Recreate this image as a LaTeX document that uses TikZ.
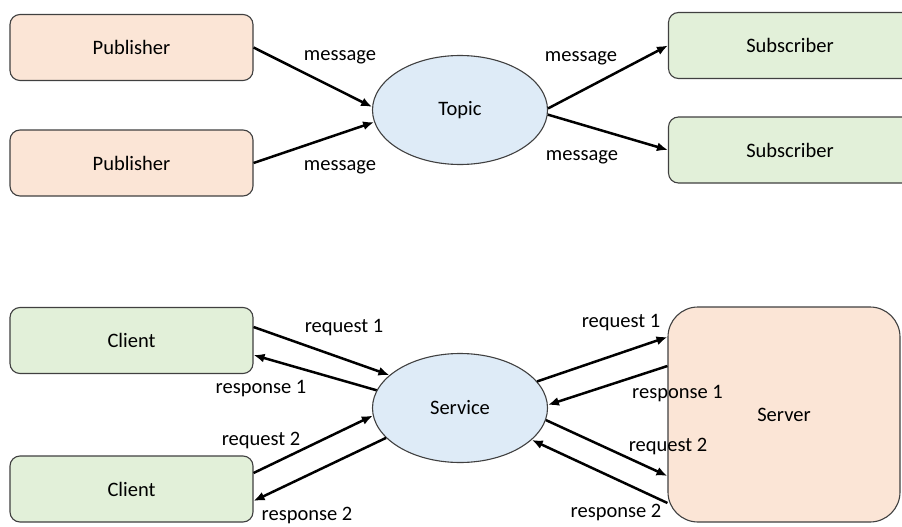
\documentclass[tikz,border=0pt]{standalone}
\usepackage{fontspec}
\setmainfont{Carlito}
\usetikzlibrary{arrows,arrows.meta,shapes}
\definecolor{pubfill}{RGB}{251,229,214}
\definecolor{subfill}{RGB}{226,240,217}
\definecolor{topicfill}{RGB}{222,235,247}
\definecolor{edgegray}{RGB}{64,64,64}
\newcommand{\txt}{\fontsize{20.5}{24}\selectfont}

\begin{document}
\begin{tikzpicture}[x=1pt,y=-1pt,
    box/.style={draw=edgegray,line width=1.1pt,rounded corners=10pt,minimum width=243pt,minimum height=66pt,font=\txt},
    orangebox/.style={box,fill=pubfill},
    greenbox/.style={box,fill=subfill},
    blob/.style={ellipse,draw=edgegray,line width=1.1pt,fill=topicfill,minimum width=175pt,minimum height=109pt,inner sep=0pt,font=\txt},
    lbl/.style={anchor=base,inner sep=0pt,font=\txt},
    msgarrow/.style={-{Latex[length=11pt,width=9pt]},line width=2.5pt}]
  \clip (0,0) rectangle (902,527);
  \fill[white] (0,0) rectangle (902,527);
  % topic
  \node[orangebox] (pub1) at (131.5,47.5) {Publisher};
  \node[orangebox] (pub2) at (131.5,163) {Publisher};
  \node[blob] (topic) at (460,110) {Topic};
  \node[greenbox] (sub1) at (790,45.5) {Subscriber};
  \node[greenbox] (sub2) at (790,150) {Subscriber};
  \path (pub1.east) edge[msgarrow] (topic.178);
  \path (pub2.east) edge[msgarrow] (topic.188);
  \path (topic.1) edge[msgarrow] (sub1.west);
  \path (topic.357) edge[msgarrow] (sub2.west);
  \node[lbl] (m1) at (340,60) {message};
  \node[lbl] (m2) at (340,170) {message};
  \node[lbl] (m3) at (581,62) {message};
  \node[lbl] (m4) at (582,160) {message};
  % service
  \node[greenbox] (client1) at (131.5,340.5) {Client};
  \node[greenbox] (client2) at (131.5,489) {Client};
  \node[blob] (service) at (460,408) {Service};
  \node[orangebox,rounded corners=30pt,minimum width=232pt,minimum height=215pt] (server) at (784,414.5) {Server};
  \path ([yshift=13.5pt]client1.east) edge[msgarrow] (service.155);
  \path (service.168) edge[msgarrow] ([yshift=-14.5pt]client1.east);
  \path ([yshift=16pt]client2.east) edge[msgarrow] (service.185);
  \path (service.202) edge[msgarrow] ([yshift=-12pt]client2.east);
  \path (service.19) edge[msgarrow] ([yshift=77.5pt]server.west);
  \path ([yshift=48.5pt]server.west) edge[msgarrow] (service.2);
  \path (service.352) edge[msgarrow] ([yshift=-61.5pt]server.west);
  \path ([yshift=-88.5pt]server.west) edge[msgarrow] (service.336);
  \node[lbl] (req1l) at (344,332) {request 1};
  \node[lbl] (res1l) at (261,393) {response 1};
  \node[lbl] (req2l) at (261,445) {request 2};
  \node[lbl] (res2l) at (307,520) {response 2};
  \node[lbl] (req1r) at (621,327) {request 1};
  \node[lbl] (res1r) at (677.5,398) {response 1};
  \node[lbl] (req2r) at (668,451) {request 2};
  \node[lbl] (res2r) at (616,517) {response 2};
\end{tikzpicture}
\end{document}
